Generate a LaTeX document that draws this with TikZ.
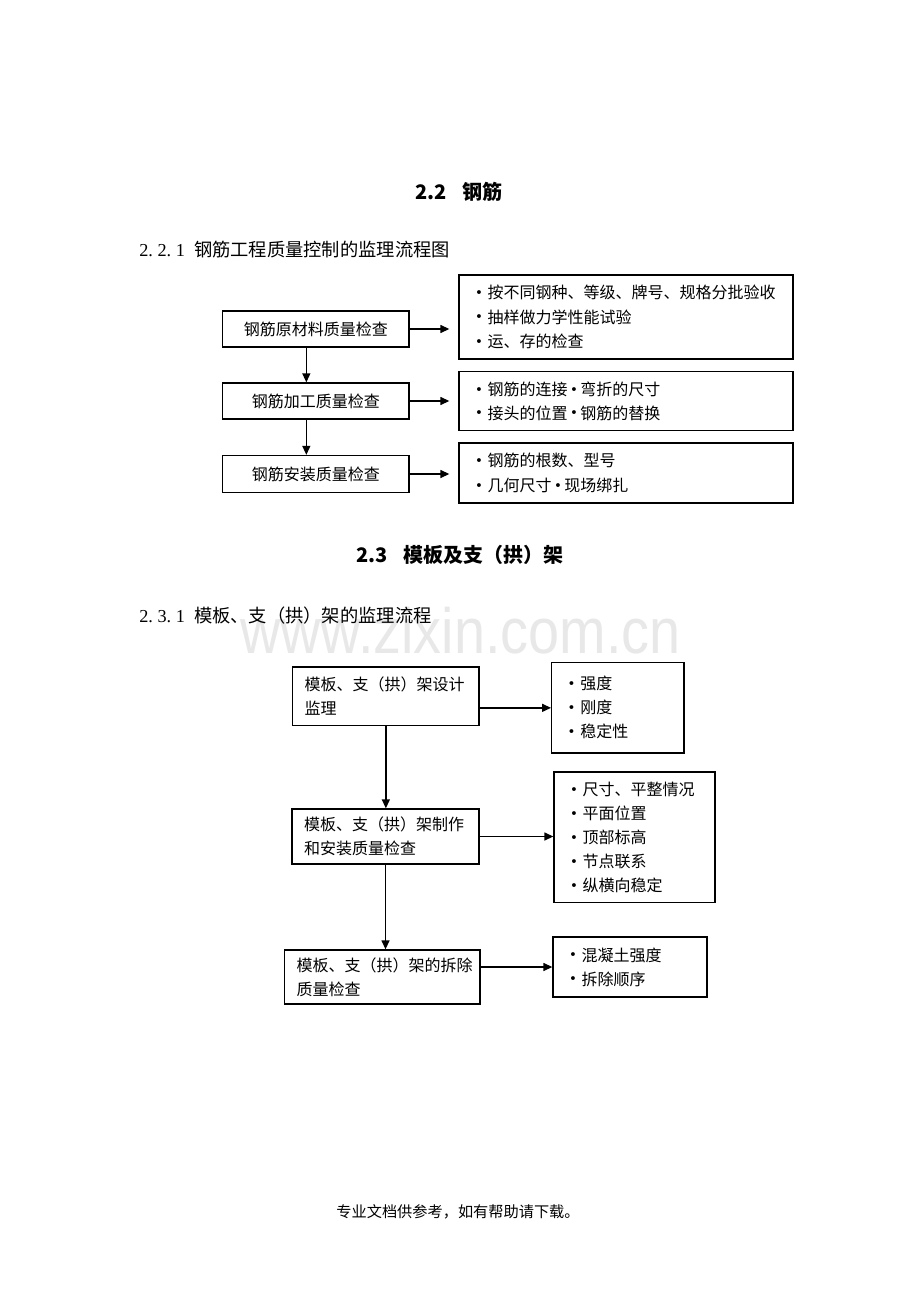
\documentclass[tikz,border=0pt]{standalone}
\usepackage{fontspec}
\setmainfont{Noto Sans CJK SC}
\newfontfamily\serf{Liberation Serif}
\newfontfamily\wmfont{Liberation Sans}
\newfontfamily\djv{DejaVu Sans}
\usetikzlibrary{arrows.meta}
\newcommand\hw[1]{\makebox[0.5em][c]{#1}}
\newcommand\hwl[1]{\makebox[0.5em][l]{#1}}
\newcommand\bul{\makebox[10.5pt][l]{\hspace{1pt}\raisebox{1pt}{\djv\fontsize{10}{10}\selectfont •}}}
\newcommand\mbul{\makebox[9.5pt][c]{\raisebox{1pt}{\djv\fontsize{10}{10}\selectfont •}}}
\tikzset{
  box/.style={draw=black, line width=1pt, inner sep=0pt, font=\fontsize{12}{18}\selectfont},
  lbox/.style={box, align=left, inner xsep=9pt},
  rbox/.style={box, align=left, inner xsep=11pt},
  arr/.style={line width=1pt, -{Triangle[length=6.75pt,width=6pt]}},
  head/.style={font=\bfseries\fontsize{15}{18}\selectfont, inner sep=0pt},
  sub/.style={anchor=west, font=\fontsize{13.7}{16}\selectfont, inner sep=0pt},
}
\begin{document}
\begin{tikzpicture}[x=0.75pt,y=-0.75pt]
\fill[white] (0,0) rectangle (920,1302);
\useasboundingbox (0,0) rectangle (920,1302);
% watermark
\node[anchor=base west, inner sep=0pt, text=black!9, font=\wmfont\fontsize{48}{48}\selectfont] (wm) at (240,653) {\scalebox{0.872}[1]{www.zixin.com.cn}};

% headings
\node[head] (t1) at (459,191.7) {2.2\hspace{11.8pt}钢筋};
\node[sub] (h1) at (139,250) {\serf\hw{2}\hwl{.}\hw{2}\hwl{.}\hw{1}\hw{}\rmfamily 钢筋工程质量控制的监理流程图};

% section 1
\node[box, minimum width=139.7pt, minimum height=27pt] (s1a) at (315.8,329) {钢筋原材料质量检查};
\node[box, minimum width=139.7pt, minimum height=27pt] (s1b) at (315.8,401) {钢筋加工质量检查};
\node[box, minimum width=139.7pt, minimum height=27.75pt] (s1c) at (315.8,474) {钢筋安装质量检查};

\node[rbox, font=\fontsize{12}{18.5}\selectfont, text width=228.5pt, minimum height=63pt] (r1) at (626,317) {\bul 按不同钢种、等级、牌号、规格分批验收\\\bul 抽样做力学性能试验\\\bul 运、存的检查};
\node[rbox, font=\fontsize{12}{17.8}\selectfont, text width=228.5pt, minimum height=44.25pt] (r2) at (626,401.2) {\bul 钢筋的连接\mbul 弯折的尺寸\\\bul 接头的位置\mbul 钢筋的替换};
\node[rbox, font=\fontsize{12}{18.5}\selectfont, text width=228.5pt, minimum height=45pt] (r3) at (626,473) {\bul 钢筋的根数、型号\\\bul 几何尺寸\mbul 现场绑扎};

\draw[arr] ([xshift=-7.1pt]s1a.south) -- ([xshift=-7.1pt]s1b.north);
\draw[arr] ([xshift=-7.1pt]s1b.south) -- ([xshift=-7.1pt]s1c.north);
\draw[arr, shorten >=6.75pt] (s1a.east) -- (s1a.east -| r1.west);
\draw[arr, shorten >=6.75pt] (s1b.east) -- (s1b.east -| r2.west);
\draw[arr, shorten >=6.75pt] (s1c.east) -- (s1c.east -| r3.west);

% section 2 headings
\node[head] (t2) at (460,555) {2.3\hspace{11.8pt}模板及支（拱）架};
\node[sub] (h2) at (139,616) {\serf\hw{2}\hwl{.}\hw{3}\hwl{.}\hw{1}\hw{}\rmfamily 模板、支（拱）架的监理流程};

% section 2
\node[lbox, text width=121.7pt, minimum height=44pt] (A) at (385.85,696.3) {模板、支（拱）架设计\\监理};
\node[lbox, text width=122.25pt, minimum height=41.25pt] (B) at (385.5,836.5) {模板、支（拱）架制作\\和安装质量检查};
\node[lbox, text width=128.5pt, minimum height=40.5pt] (C) at (382.35,977) {模板、支（拱）架的拆除\\质量检查};

\node[rbox, text width=77.2pt, minimum height=67.7pt] (RA) at (617.85,707.85) {\bul 强度\\\bul 刚度\\\bul 稳定性};
\node[rbox, text width=98.75pt, minimum height=98pt] (RB) at (634.5,837.35) {\bul 尺寸、平整情况\\\bul 平面位置\\\bul 顶部标高\\\bul 节点联系\\\bul 纵横向稳定};
\node[rbox, text width=93.5pt, minimum height=45pt] (RC) at (630,967) {\bul 混凝土强度\\\bul 拆除顺序};

\draw[arr] (A.south) -- (A.south |- B.north);
\draw[arr] (B.south) -- (B.south |- C.north);
\draw[arr] (A.east |- RA.west) -- (RA.west);
\draw[arr] (B.east) -- (B.east -| RB.west);
\draw[arr] (C.east |- RC.west) -- (RC.west);

% footer
\node[font=\fontsize{11.4}{14}\selectfont, inner sep=0pt] (ft) at (458,1211.7) {专业文档供参考，如有帮助请下载。};
\end{tikzpicture}
\end{document}
